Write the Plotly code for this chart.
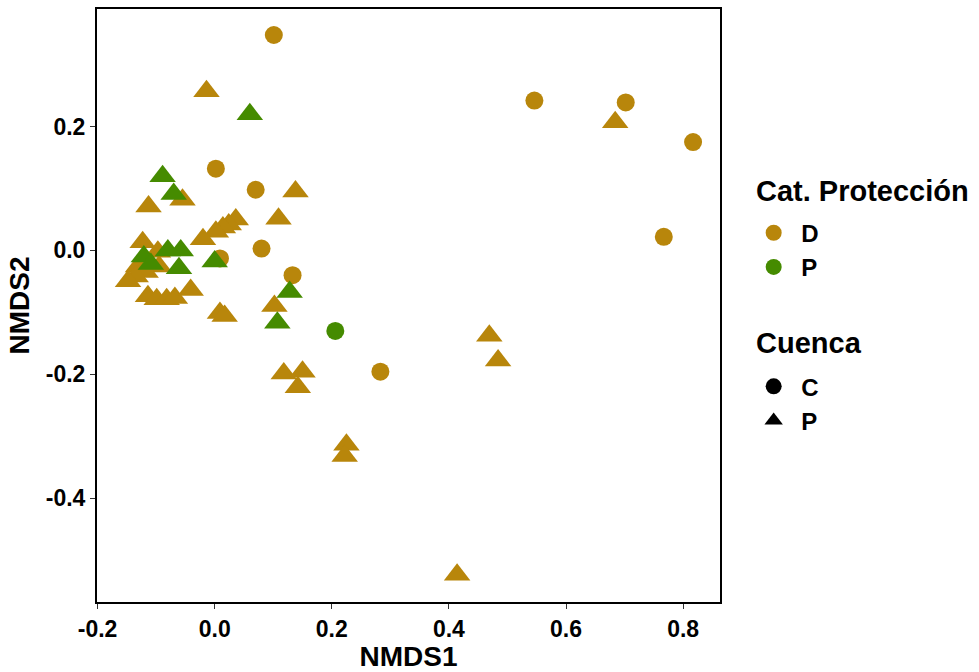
import plotly.graph_objects as go

# Cat. Protección D, Cuenca C (circles)
dc_x = [0.101, 0.546, 0.702, 0.817, 0.767, 0.002, 0.070, 0.080, 0.133, 0.283, 0.009]
dc_y = [0.348, 0.242, 0.239, 0.175, 0.022, 0.132, 0.098, 0.003, -0.040, -0.196, -0.013]

# Cat. Protección P, Cuenca C (circles)
pc_x = [0.206]
pc_y = [-0.130]

# Cat. Protección D, Cuenca P (triangles)
dp_x = [-0.014, 0.684, 0.138, 0.109, -0.113, -0.055, 0.036, 0.024, 0.014, 0.002,
        -0.020, -0.123, -0.097, -0.095, -0.131, -0.118, -0.135, -0.148, -0.114, -0.099,
        -0.082, -0.068, -0.041, 0.009, 0.017, 0.102, 0.118, 0.150, 0.142, 0.225,
        0.222, 0.414, 0.469, 0.484]
dp_y = [0.257, 0.207, 0.095, 0.051, 0.071, 0.082, 0.050, 0.042, 0.037, 0.030,
        0.018, 0.013, -0.002, -0.026, -0.026, -0.035, -0.042, -0.050, -0.074, -0.079,
        -0.079, -0.077, -0.064, -0.101, -0.106, -0.090, -0.199, -0.196, -0.221, -0.314,
        -0.332, -0.524, -0.138, -0.178]

# Cat. Protección P, Cuenca P (triangles)
pp_x = [0.060, -0.089, -0.070, -0.058, -0.080, -0.061, -0.121, -0.109, 0.000, 0.128, 0.107]
pp_y = [0.220, 0.120, 0.091, 0.000, 0.000, -0.029, -0.010, -0.022, -0.018, -0.067, -0.117]

x_ticks = [-0.2, 0.0, 0.2, 0.4, 0.6, 0.8]
x_labels = ["-0.2", "0.0", "0.2", "0.4", "0.6", "0.8"]
y_ticks = [-0.4, -0.2, 0.0, 0.2]
y_labels = ["-0.4", "-0.2", "0.0", "0.2"]

ORANGE = "#B8860B"
GREEN = "#458B00"
FONT = "Liberation Sans"

fig = go.Figure()

def add_pts(x, y, color, symbol, size):
    fig.add_trace(go.Scatter(x=x, y=y, mode="markers", showlegend=False, hoverinfo="skip",
                             marker=dict(color=color, symbol=symbol, size=size, line=dict(width=0))))

add_pts(dc_x, dc_y, ORANGE, "circle", 18)
add_pts(dp_x, dp_y, ORANGE, "triangle-up", 23)
add_pts(pc_x, pc_y, GREEN, "circle", 18)
add_pts(pp_x, pp_y, GREEN, "triangle-up", 23)

# legend entries
for name, color in [("D", ORANGE), ("P", GREEN)]:
    fig.add_trace(go.Scatter(x=[None], y=[None], mode="markers", name=name, legend="legend",
                             marker=dict(color=color, symbol="circle", size=16)))
for name, sym in [("C", "circle"), ("P", "triangle-up")]:
    fig.add_trace(go.Scatter(x=[None], y=[None], mode="markers", name=name, legend="legend2",
                             marker=dict(color="black", symbol=sym, size=16)))

axis_common = dict(showgrid=False, zeroline=False, showline=True, linecolor="black", linewidth=2,
                   mirror=True, ticks="outside", ticklen=5, tickwidth=1, tickcolor="#333333",
                   tickfont=dict(family=FONT, size=23, color="black", weight="bold"))

legend_common = dict(font=dict(family=FONT, size=24, weight="bold"), xanchor="left", yanchor="top",
                     bgcolor="rgba(0,0,0,0)", itemsizing="trace", itemwidth=45)

fig.update_layout(
    width=979, height=672,
    margin=dict(l=97, r=259, t=7, b=68),
    paper_bgcolor="white", plot_bgcolor="white",
    font=dict(family=FONT, color="black"),
    xaxis=dict(range=[-0.201, 0.863], tickmode="array", tickvals=x_ticks, ticktext=x_labels,
               title=dict(text="NMDS1", font=dict(family=FONT, size=28, weight="bold"), standoff=4),
               **axis_common),
    yaxis=dict(range=[-0.568, 0.390], tickmode="array", tickvals=y_ticks, ticktext=y_labels,
               title=dict(text="NMDS2", font=dict(family=FONT, size=28, weight="bold"), standoff=8),
               **axis_common),
    legend=dict(x=1.042, y=0.660, **legend_common),
    legend2=dict(x=1.042, y=0.401, **legend_common),
    annotations=[
        dict(text="Cat. Protección", xref="paper", yref="paper", x=1.055, y=0.693,
             xanchor="left", yanchor="middle", showarrow=False,
             font=dict(family=FONT, size=29, weight="bold", color="black")),
        dict(text="Cuenca", xref="paper", yref="paper", x=1.055, y=0.437,
             xanchor="left", yanchor="middle", showarrow=False,
             font=dict(family=FONT, size=29, weight="bold", color="black")),
    ],
)

fig.write_html("out.html")
